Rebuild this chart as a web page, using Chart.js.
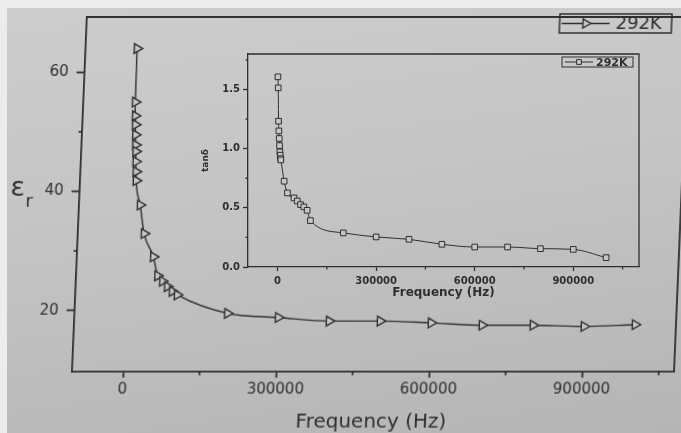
<!DOCTYPE html>
<html>
<head>
<meta charset="utf-8">
<script src="https://cdn.jsdelivr.net/npm/chart.js@4.4.1/dist/chart.umd.min.js"></script>
<style>
  html, body { margin: 0; padding: 0; }
  body { width: 681px; height: 433px; overflow: hidden; position: relative; background: #ececec; }
  #paper { position: absolute; left: 7px; top: 8px; right: 0; bottom: 0;
           background: linear-gradient(172deg, #cdcdcd 0%, #c4c4c4 45%, #b5b5b5 100%); }
  /* the photo is slanted: top of the frame sits further right than the bottom */
  #main { position: absolute; left: 0; top: 0; transform: skewX(-2.4deg); transform-origin: 0 372px; }
  #inset { position: absolute; left: 190px; top: 44px; }
</style>
</head>
<body>
<div id="paper"></div>
<canvas id="main" width="681" height="433"></canvas>
<canvas id="inset" width="460" height="262"></canvas>
<script>
// data
const freq = [1000, 2000, 3000, 4000, 5000, 6000, 7000, 8000, 9000, 10000,
              20000, 30000, 50000, 60000, 70000, 80000, 90000, 100000,
              200000, 300000, 400000, 500000, 600000, 700000, 800000, 900000, 1000000];
const epsR = [64.0, 55.0, 52.7, 51.2, 49.5, 47.8, 46.7, 45.0, 43.3, 41.8,
              37.7, 32.9, 29.0, 25.8, 24.9, 24.0, 23.2, 22.6,
              19.5, 18.8, 18.2, 18.2, 17.9, 17.5, 17.5, 17.3, 17.6];
const tanDelta = [1.607, 1.514, 1.232, 1.150, 1.086, 1.026, 0.973, 0.945, 0.916, 0.905,
                  0.725, 0.626, 0.584, 0.558, 0.527, 0.508, 0.479, 0.392,
                  0.288, 0.254, 0.234, 0.192, 0.169, 0.169, 0.155, 0.149, 0.079];
const seriesName = '292K';

const xMajor = [0, 300000, 600000, 900000];
const xMinor = [150000, 450000, 750000, 1050000];
const epsMajor = [20, 40, 60];
const epsMinor = [30, 50];
const tanMajor = [0, 0.5, 1.0, 1.5];
const tanMinor = [0.25, 0.75, 1.25, 1.75];

const INK = '#2f2f2f';
const FILL = '#c6c6c6';

// top + right frame lines and the short minor ticks
const framePlugin = {
  id: 'frame',
  afterDraw(chart, args, o) {
    const { ctx, chartArea: a, scales } = chart;
    ctx.save();
    ctx.strokeStyle = INK;
    ctx.lineWidth = o.width;
    ctx.beginPath();
    ctx.moveTo(a.left, a.top);
    ctx.lineTo(a.right, a.top);
    ctx.lineTo(a.right, a.bottom);
    o.xMinor.forEach(v => {
      const px = scales.x.getPixelForValue(v);
      ctx.moveTo(px, a.bottom);
      ctx.lineTo(px, a.bottom + o.minorLen);
    });
    o.yMinor.forEach(v => {
      const py = scales.y.getPixelForValue(v);
      ctx.moveTo(a.left, py);
      ctx.lineTo(a.left - o.minorLen, py);
    });
    ctx.stroke();
    ctx.restore();
  }
};

// Origin style legend box: line - symbol - line, then the name
const boxLegend = {
  id: 'boxLegend',
  afterDraw(chart, args, o) {
    const ctx = chart.ctx;
    const ds = chart.data.datasets[0];
    const midY = o.y + o.h / 2;
    ctx.save();
    ctx.strokeStyle = INK;
    ctx.lineWidth = o.lineWidth;
    ctx.strokeRect(o.x, o.y, o.w, o.h);
    ctx.beginPath();
    ctx.moveTo(o.x + o.lineFrom, midY);
    ctx.lineTo(o.x + o.lineTo, midY);
    ctx.stroke();
    ctx.fillStyle = FILL;
    ctx.lineWidth = ds.pointBorderWidth;
    Chart.helpers.drawPoint(ctx, {
      pointStyle: ds.pointStyle, rotation: ds.pointRotation || 0,
      radius: o.markR, borderWidth: ds.pointBorderWidth
    }, o.x + o.markAt, midY);
    ctx.fillStyle = INK;
    ctx.font = o.font;
    ctx.textBaseline = 'middle';
    ctx.fillText(ds.label, o.x + o.textAt, midY + 1);
    ctx.restore();
  }
};

// upright epsilon_r axis label
const epsTitle = {
  id: 'epsTitle',
  afterDraw(chart) {
    const ctx = chart.ctx;
    ctx.save();
    ctx.fillStyle = INK;
    ctx.textAlign = 'center';
    ctx.textBaseline = 'alphabetic';
    ctx.font = '27px "DejaVu Sans"';
    ctx.fillText('ε', 10, 196);
    ctx.font = '18px "DejaVu Sans"';
    ctx.fillText('r', 22, 207);
    ctx.restore();
  }
};

const fix = (w, h) => scale => {
  if (w !== null) scale.width = w;
  if (h !== null) scale.height = h;
};

new Chart(document.getElementById('main'), {
  type: 'line',
  data: {
    datasets: [{
      label: seriesName,
      data: freq.map((f, i) => ({ x: f, y: epsR[i] })),
      borderColor: INK,
      borderWidth: 1.4,
      cubicInterpolationMode: 'monotone',
      pointStyle: 'triangle',
      pointRotation: 90,
      pointRadius: 5.6,
      pointBorderWidth: 1.4,
      pointBorderColor: INK,
      pointBackgroundColor: FILL,
      clip: false
    }]
  },
  options: {
    responsive: false,
    animation: false,
    devicePixelRatio: 1,
    layout: { padding: { top: 14, right: 4, left: 0, bottom: 0 } },
    plugins: {
      legend: { display: false },
      tooltip: { enabled: false },
      frame: { width: 1.8, minorLen: 3.5, xMinor: xMinor, yMinor: epsMinor },
      boxLegend: { x: 545, y: 14, w: 112, h: 19, lineWidth: 1.5, lineFrom: 2, lineTo: 50,
                   markAt: 26, markR: 5.2, textAt: 56, font: '18px "DejaVu Sans"' }
    },
    scales: {
      x: {
        type: 'linear',
        min: -100000,
        max: 1080000,
        afterBuildTicks: s => { s.ticks = xMajor.map(v => ({ value: v })); },
        afterFit: fix(null, 61),
        ticks: { color: INK, font: { family: 'DejaVu Sans', size: 15 }, padding: 3,
                 maxRotation: 0, autoSkip: false, callback: v => String(v) },
        grid: { drawOnChartArea: false, color: INK, tickLength: 6, tickWidth: 1.8 },
        border: { color: INK, width: 1.8 },
        title: { display: true, text: 'Frequency (Hz)', color: INK,
                 font: { family: 'DejaVu Sans', size: 20, lineHeight: 1 },
                 padding: { top: 0, bottom: 0 } }
      },
      y: {
        min: 9.7,
        max: 69.3,
        afterBuildTicks: s => { s.ticks = epsMajor.map(v => ({ value: v })); },
        afterFit: fix(72, null),
        ticks: { color: INK, font: { family: 'DejaVu Sans', size: 15 }, padding: 8 },
        grid: { drawOnChartArea: false, color: INK, tickLength: 8, tickWidth: 1.8 },
        border: { color: INK, width: 1.8 }
      }
    }
  },
  plugins: [framePlugin, boxLegend, epsTitle]
});

new Chart(document.getElementById('inset'), {
  type: 'line',
  data: {
    datasets: [{
      label: seriesName,
      data: freq.map((f, i) => ({ x: f, y: tanDelta[i] })),
      borderColor: INK,
      borderWidth: 1,
      cubicInterpolationMode: 'monotone',
      pointStyle: 'rect',
      pointRadius: 4,
      pointBorderWidth: 1,
      pointBorderColor: INK,
      pointBackgroundColor: FILL,
      clip: false
    }]
  },
  options: {
    responsive: false,
    animation: false,
    devicePixelRatio: 1,
    layout: { padding: { top: 10, right: 11, left: 0, bottom: 0 } },
    plugins: {
      legend: { display: false },
      tooltip: { enabled: false },
      frame: { width: 1.3, minorLen: 2.5, xMinor: xMinor, yMinor: tanMinor },
      boxLegend: { x: 372, y: 13, w: 71, h: 10, lineWidth: 1, lineFrom: 3, lineTo: 31,
                   markAt: 17, markR: 3.4, textAt: 34, font: 'bold 11px "DejaVu Sans"' }
    },
    scales: {
      x: {
        type: 'linear',
        min: -90000,
        max: 1100000,
        afterBuildTicks: s => { s.ticks = xMajor.map(v => ({ value: v })); },
        afterFit: fix(null, 39),
        ticks: { color: INK, font: { family: 'DejaVu Sans', size: 10, weight: 'bold' }, padding: 4,
                 maxRotation: 0, autoSkip: false, callback: v => String(v) },
        grid: { drawOnChartArea: false, color: INK, tickLength: 4, tickWidth: 1.3 },
        border: { color: INK, width: 1.3 },
        title: { display: true, text: 'Frequency (Hz)', color: INK,
                 font: { family: 'DejaVu Sans', size: 12, weight: 'bold', lineHeight: 1.2 },
                 padding: { top: 0, bottom: 6 } }
      },
      y: {
        min: 0,
        max: 1.8,
        afterBuildTicks: s => { s.ticks = tanMajor.map(v => ({ value: v })); },
        afterFit: fix(58, null),
        ticks: { color: INK, font: { family: 'DejaVu Sans', size: 10, weight: 'bold' }, padding: 3,
                 callback: v => v.toFixed(1) },
        grid: { drawOnChartArea: false, color: INK, tickLength: 5, tickWidth: 1.3 },
        border: { color: INK, width: 1.3 },
        title: { display: true, text: 'tanδ', color: INK,
                 font: { family: 'DejaVu Sans', size: 9, weight: 'bold', lineHeight: 1.2 },
                 padding: { top: 10, bottom: 0 } }
      }
    }
  },
  plugins: [framePlugin, boxLegend]
});
</script>
</body>
</html>
